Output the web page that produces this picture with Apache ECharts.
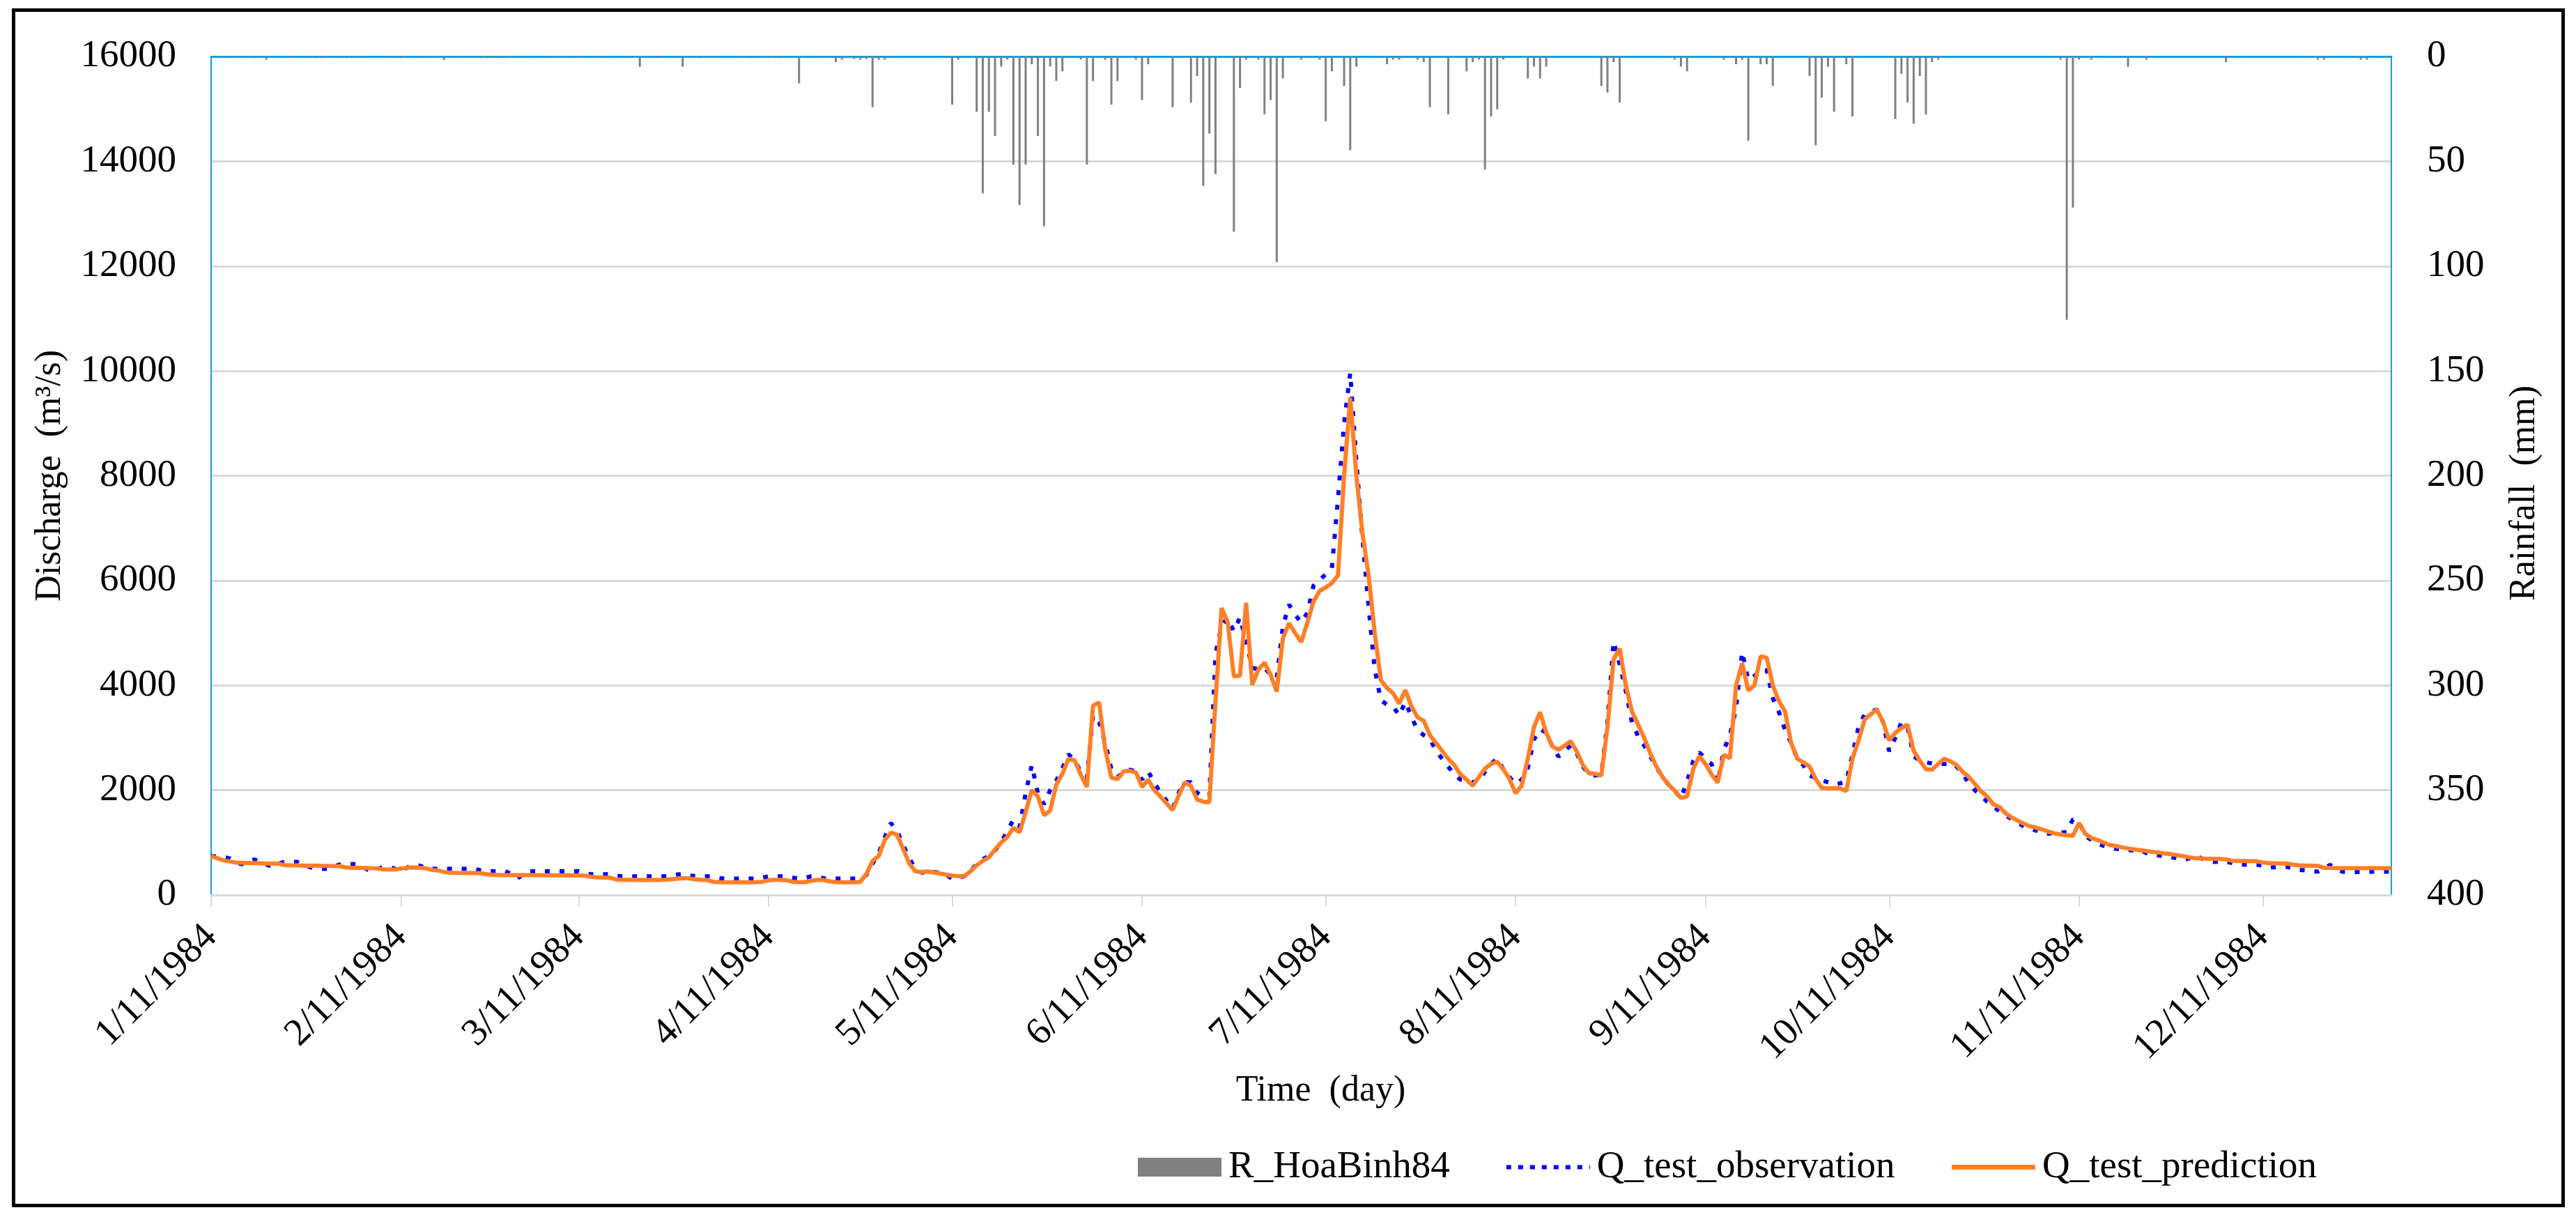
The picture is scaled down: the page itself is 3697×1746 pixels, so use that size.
<!DOCTYPE html>
<html>
<head>
<meta charset="utf-8">
<script src="https://cdn.jsdelivr.net/npm/echarts@6/dist/echarts.min.js"></script>
<style>
html,body{margin:0;padding:0;background:#ffffff;}
#chart{width:3697px;height:1746px;}
</style>
</head>
<body>
<div id="chart"></div>
<script>
// ---- categories: daily dates from 1/11/1984 (M/D/YYYY) ----
const dayCount = 357;
const categories = [];
for (let i = 0; i < dayCount; i++) {
  const d = new Date(1984, 0, 11 + i);
  categories.push((d.getMonth() + 1) + '/' + d.getDate() + '/' + d.getFullYear());
}

// ---- discharge observation (m3/s), one value per day ----
const observation = [
742,735,725,700,620,587,640,676,640,580,
542,600,631,630,631,590,540,498,498,498,
540,580,587,587,587,520,453,490,530,542,
500,453,520,587,560,520,498,498,498,498,
498,498,498,498,470,453,453,453,453,400,
311,400,453,453,453,453,453,453,453,453,
453,420,395,395,395,395,370,355,355,355,
355,355,355,355,355,370,390,400,380,355,
355,355,340,320,311,311,311,311,311,311,
330,355,355,355,355,330,311,330,355,340,
320,311,311,311,311,311,311,380,600,800,
1100,1373,1224,950,700,500,430,420,440,420,
400,300,330,358,450,597,680,746,850,1000,
1224,1433,1300,1940,2478,1940,1731,2000,2179,2418,
2687,2567,2350,2239,3433,3300,2896,2400,2250,2350,
2388,2360,2200,2358,2149,1950,1800,1650,1950,2150,
2150,1950,1880,1890,4600,5150,5283,5034,5296,4826,
4336,4300,4336,4200,4140,5120,5543,5348,5200,5380,
5902,6013,6117,6228,7566,9002,9961,8284,6800,5500,
4304,3716,3632,3600,3423,3684,3400,3142,3050,2979,
2750,2600,2450,2300,2200,2183,2150,2183,2350,2500,
2607,2400,2250,2118,2200,2424,2966,3162,3100,2836,
2640,2750,2850,2700,2450,2300,2280,2300,3300,4839,
4400,3890,3294,3029,2852,2650,2433,2250,2100,1990,
1837,2168,2550,2720,2600,2499,2146,2764,3051,3558,
4640,4100,4177,4300,4287,3757,3492,3150,2900,2600,
2477,2278,2240,2190,2150,2110,2130,2168,2676,3205,
3448,3500,3536,3300,2742,3000,3294,3200,2653,2560,
2530,2508,2500,2499,2520,2450,2322,2124,2000,1900,
1780,1700,1594,1520,1450,1380,1307,1267,1230,1178,
1170,1180,1190,1200,1444,1395,1133,1050,978,940,
902,880,870,858,850,855,800,770,755,740,
724,700,667,700,755,700,650,631,633,635,
610,590,578,578,578,560,529,530,535,535,
510,480,470,460,445,500,573,500,444,442,
440,440,442,444,444,444,444
];

// ---- discharge prediction (m3/s), one value per day ----
const prediction = [
742,700,662,640,620,615,610,609,605,600,
600,598,570,565,565,560,560,558,555,555,
552,550,525,520,518,515,512,510,490,485,
484,505,520,525,520,510,480,467,440,425,
422,420,420,418,415,395,385,382,380,380,
380,378,378,378,376,375,375,375,375,374,
372,370,350,335,333,330,300,290,289,288,
287,286,285,285,290,300,310,320,318,300,
290,285,250,245,244,244,242,242,242,245,
250,280,290,289,280,250,244,245,270,289,
285,260,245,244,244,244,250,400,650,740,
1050,1190,1150,880,600,450,440,448,430,410,
390,370,358,360,450,567,650,716,866,1000,
1104,1283,1194,1582,2000,1880,1522,1612,2100,2314,
2597,2567,2298,2060,3612,3672,2776,2239,2209,2358,
2370,2340,2060,2200,2000,1880,1750,1620,1900,2150,
2080,1820,1780,1770,3700,5478,5200,4173,4186,5576,
4010,4300,4434,4200,3880,4891,5184,5000,4826,5200,
5600,5800,5870,5950,6100,8000,9491,8000,6900,6100,
5000,4100,3950,3850,3650,3912,3600,3390,3325,3050,
2900,2750,2600,2480,2300,2200,2085,2250,2411,2500,
2542,2400,2216,1942,2085,2600,3200,3488,3100,2836,
2770,2850,2933,2738,2477,2320,2314,2278,3200,4500,
4700,4000,3500,3250,3000,2700,2450,2250,2100,1990,
1850,1880,2400,2650,2500,2300,2146,2676,2609,4000,
4419,3900,4000,4552,4530,4000,3700,3500,2900,2600,
2530,2450,2212,2040,2035,2035,2035,1982,2600,2950,
3350,3450,3536,3300,2950,3095,3183,3250,2750,2565,
2400,2389,2500,2600,2550,2480,2350,2256,2120,1980,
1880,1730,1680,1560,1480,1417,1360,1310,1285,1250,
1210,1174,1155,1140,1130,1373,1170,1090,1050,1000,
954,935,910,889,870,855,840,820,810,790,
780,760,742,720,700,698,690,689,689,680,
653,650,648,646,644,620,609,605,603,600,
575,564,560,558,555,520,515,513,512,511,
511,511,511,511,511,511,511
];

// ---- rainfall (mm): [day index, depth] for rainy days ----
const rainfall = [
[4,0.6],[7,0.8],[9,1.5],[13,0.6],[17,0.8],[18,0.8],[19,0.6],[22,0.8],[23,0.8],[25,0.6],
[29,0.6],[31,0.8],[36,0.6],[38,1.6],[41,0.6],[42,0.6],[44,0.8],[45,0.8],[46,0.6],[47,0.8],
[48,0.8],[49,0.6],[56,0.6],[57,0.6],[58,0.6],[60,0.6],[63,0.6],[69,0.6],[70,4.9],[71,0.8],
[73,0.8],[77,4.9],[80,0.8],[82,0.6],[87,0.6],[88,0.8],[90,0.6],[91,0.8],[92,0.6],[93,0.8],
[96,12.8],[101,0.6],[102,2.7],[103,1.5],[105,1.2],[106,1.5],[107,1.2],[108,24.2],[109,1.5],[110,1.5],
[121,23.0],[122,1.5],[125,26.4],[126,65.3],[127,26.4],[128,37.9],[129,4.8],[130,1.5],[131,51.6],[132,70.9],
[133,51.6],[134,3.7],[135,37.9],[136,81.0],[137,4.8],[138,11.7],[139,7.1],[142,1.5],[143,51.6],[144,11.7],
[146,1.5],[147,23.0],[148,11.7],[151,1.5],[152,20.8],[153,3.7],[157,24.2],[160,22.0],[161,9.3],[162,61.7],
[163,36.8],[164,56.1],[167,83.6],[168,15.0],[169,1.5],[171,1.5],[172,27.6],[173,20.8],[174,98.1],[175,10.5],
[178,1.5],[181,1.5],[182,30.9],[183,7.1],[185,14.1],[186,44.7],[187,4.8],[192,3.7],[193,1.5],[194,1.5],
[197,1.5],[198,2.7],[199,24.2],[202,27.6],[205,7.1],[206,2.7],[207,1.5],[208,53.9],[209,28.6],[210,25.2],
[211,1.5],[215,10.5],[216,4.8],[217,10.5],[218,4.8],[227,14.1],[228,17.2],[229,2.7],[230,22.0],[239,1.5],
[240,4.8],[241,7.1],[247,1.5],[249,3.7],[250,1.5],[251,40.2],[253,3.7],[254,3.7],[255,14.1],[261,9.3],
[262,42.4],[263,19.7],[264,4.9],[265,26.4],[267,3.7],[268,28.6],[275,29.8],[276,8.3],[277,22.0],[278,32.1],
[279,9.3],[280,27.6],[281,2.7],[282,1.5],[302,1.5],[303,125.6],[304,72.1],[305,1.5],[307,1.5],[313,4.9],
[316,1.5],[329,2.7],[344,1.5],[345,1.5],[351,1.5],[352,1.5]
];

const seriesNames = ['R_HoaBinh84', 'Q_test_observation', 'Q_test_prediction'];
const tickDay = '11'; // x labels shown on the 11th of every month

const FONT = "'Liberation Serif', 'Times New Roman', serif";
const AXIS_BLUE = '#1f9bd8';
const GRID_GRAY = '#d9d9d9';
const OBS_BLUE = '#0000ff';
const PRED_ORANGE = '#ff7f27';
const isTick = function (index, value) { return String(value).split('/')[1] === tickDay; };
const plain = function (v) { return String(v); };

const chart = echarts.init(document.getElementById('chart'), null, {renderer: 'canvas'});
chart.setOption({
  animation: false,
  backgroundColor: '#ffffff',
  textStyle: {fontFamily: FONT},
  grid: {left: 303, right: 265, top: 81, bottom: 462, containLabel: false},
  legend: {
    left: 1628, top: 1642,
    itemWidth: 120, itemHeight: 27, itemGap: 78,
    textStyle: {fontFamily: FONT, fontSize: 55, color: '#000', padding: [0, 0, 0, 5]},
    data: [
      {name: seriesNames[0], icon: 'rect'},
      {name: seriesNames[1], itemStyle: {opacity: 0}, lineStyle: {width: 6, color: OBS_BLUE, type: [7, 10]}},
      {name: seriesNames[2], itemStyle: {opacity: 0}, lineStyle: {width: 7, color: PRED_ORANGE}}
    ]
  },
  xAxis: [{
    type: 'category', data: categories, boundaryGap: false,
    axisLine: {show: true, lineStyle: {color: GRID_GRAY, width: 3}},
    axisTick: {show: true, interval: isTick, length: 17, lineStyle: {color: GRID_GRAY, width: 2}},
    axisLabel: {interval: isTick, rotate: 45, margin: 52, fontFamily: FONT, fontSize: 55, color: '#000'},
    splitLine: {show: false},
    name: 'Time  (day)', nameLocation: 'middle', nameGap: 255,
    nameTextStyle: {fontFamily: FONT, fontSize: 52, color: '#000', padding: [0, 0, 0, 56]}
  }, {
    type: 'category', data: categories, boundaryGap: false, position: 'top',
    axisLine: {show: true, lineStyle: {color: AXIS_BLUE, width: 3}},
    axisTick: {show: false}, axisLabel: {show: false}, splitLine: {show: false}
  }],
  yAxis: [{
    type: 'value', min: 0, max: 16000, interval: 2000,
    axisLine: {show: true, lineStyle: {color: AXIS_BLUE, width: 2}},
    axisTick: {show: false},
    splitLine: {show: true, lineStyle: {color: GRID_GRAY, width: 3}},
    axisLabel: {margin: 50, fontFamily: FONT, fontSize: 55, color: '#000', formatter: plain},
    name: 'Discharge  (m\u00B3/s)', nameLocation: 'middle', nameGap: 205, nameRotate: 90,
    nameTextStyle: {fontFamily: FONT, fontSize: 52, color: '#000'}
  }, {
    type: 'value', min: 0, max: 400, interval: 50, inverse: true, position: 'right',
    axisLine: {show: true, lineStyle: {color: AXIS_BLUE, width: 2}},
    axisTick: {show: false},
    splitLine: {show: false},
    axisLabel: {margin: 51, fontFamily: FONT, fontSize: 55, color: '#000', formatter: plain},
    name: 'Rainfall  (mm)', nameLocation: 'middle', nameGap: 165, nameRotate: 90,
    nameTextStyle: {fontFamily: FONT, fontSize: 52, color: '#000', padding: [0, 50, 0, 0]}
  }],
  series: [{
    name: seriesNames[0], type: 'bar', xAxisIndex: 0, yAxisIndex: 1,
    data: rainfall, barWidth: 3, itemStyle: {color: '#808080'}, z: 1
  }, {
    name: seriesNames[1], type: 'line', xAxisIndex: 0, yAxisIndex: 0,
    data: observation, symbol: 'none', showSymbol: false,
    lineStyle: {color: OBS_BLUE, width: 6, type: [7, 14], cap: 'butt'},
    itemStyle: {color: OBS_BLUE}, z: 2
  }, {
    name: seriesNames[2], type: 'line', xAxisIndex: 0, yAxisIndex: 0,
    data: prediction, symbol: 'none', showSymbol: false,
    lineStyle: {color: PRED_ORANGE, width: 6},
    itemStyle: {color: PRED_ORANGE}, z: 3
  }],
  graphic: [{
    type: 'rect', silent: true, z: 100,
    shape: {x: 19.5, y: 14.5, width: 3659, height: 1715},
    style: {fill: 'none', stroke: '#000000', lineWidth: 5}
  }]
});
</script>
</body>
</html>
